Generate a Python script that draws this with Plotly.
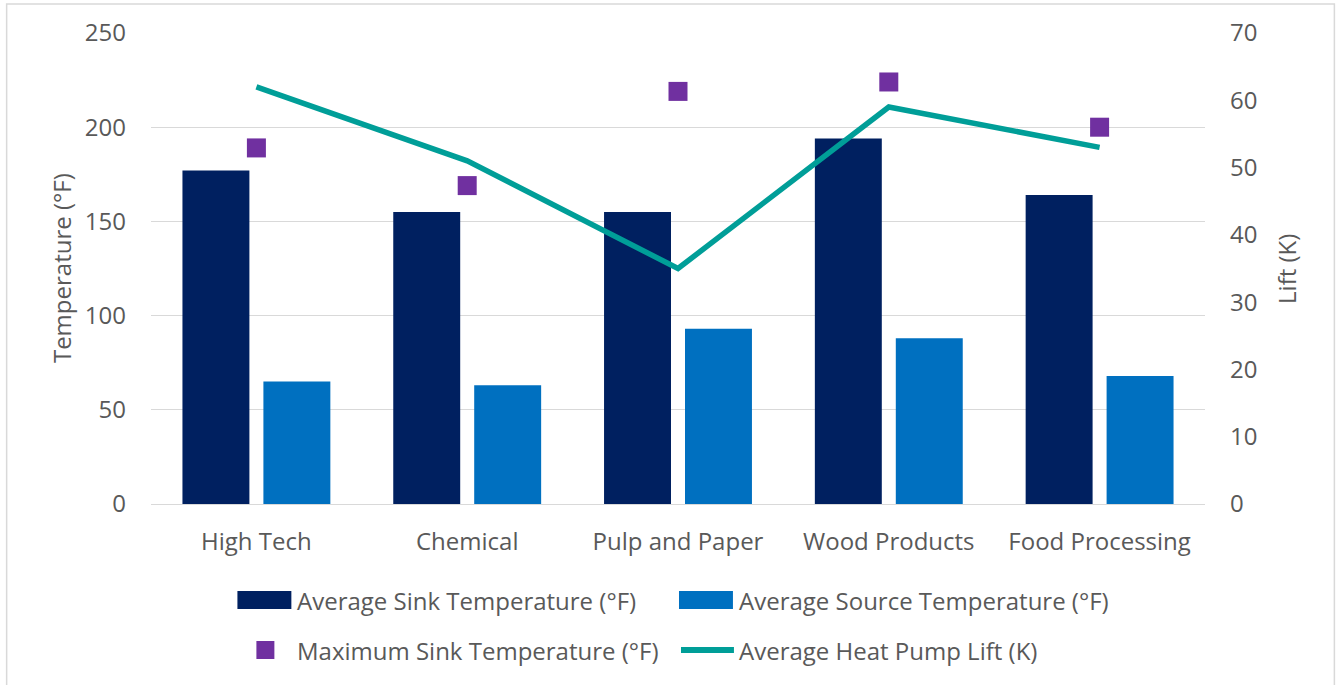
import plotly.graph_objects as go

# Industry categories and temperature / lift data
categories = ["High Tech", "Chemical", "Pulp and Paper", "Wood Products", "Food Processing"]
avg_sink_temp_f = [177, 155, 155, 194, 164]
avg_source_temp_f = [65, 63, 93, 88, 68]
max_sink_temp_f = [189, 169, 219, 224, 200]
avg_lift_k = [62, 51, 35, 59, 53]

left_ticks = [0, 50, 100, 150, 200, 250]
right_ticks = [0, 10, 20, 30, 40, 50, 60, 70]

series_names = [
    "Average Sink Temperature (°F)",
    "Average Source Temperature (°F)",
    "Maximum Sink Temperature (°F)",
    "Average Heat Pump Lift (K)",
]

NAVY = "#002060"
BLUE = "#0070C0"
PURPLE = "#7030A0"
TEAL = "#009E98"
TEXT = "#595959"
GRID = "#D9D9D9"
FONT = "Open Sans"

W, H = 1340, 685
L, R, T, B = 150.5, 134.5, 33, 181
PW, PH = W - L - R, H - T - B


def px(x):
    return (x - L) / PW


def py(y):
    return (H - B - y) / PH


fig = go.Figure()

fig.add_trace(go.Bar(x=categories, y=avg_sink_temp_f, name=series_names[0],
                     marker=dict(color=NAVY, line=dict(width=0)), showlegend=False))
fig.add_trace(go.Bar(x=categories, y=avg_source_temp_f, name=series_names[1],
                     marker=dict(color=BLUE, line=dict(width=0)), showlegend=False))
fig.add_trace(go.Scatter(x=categories, y=max_sink_temp_f, name=series_names[2], mode="markers",
                         marker=dict(symbol="square", size=19, color=PURPLE, line=dict(width=0)),
                         showlegend=False))
fig.add_trace(go.Scatter(x=categories, y=avg_lift_k, name=series_names[3], mode="lines",
                         line=dict(color=TEAL, width=5.5), yaxis="y2", showlegend=False))

# Legend drawn as swatches plus labels, two columns by two rows
shapes = [
    dict(type="rect", xref="paper", yref="paper", x0=px(6), x1=px(1335), y0=py(690), y1=py(4),
         line=dict(color=GRID, width=1.5), fillcolor="rgba(0,0,0,0)", layer="below"),
    dict(type="rect", xref="paper", yref="paper", x0=px(237), x1=px(291), y0=py(609), y1=py(591),
         line=dict(width=0), fillcolor=NAVY),
    dict(type="rect", xref="paper", yref="paper", x0=px(679), x1=px(733), y0=py(609), y1=py(591),
         line=dict(width=0), fillcolor=BLUE),
    dict(type="rect", xref="paper", yref="paper", x0=px(256), x1=px(274), y0=py(659), y1=py(641),
         line=dict(width=0), fillcolor=PURPLE),
    dict(type="line", xref="paper", yref="paper", x0=px(681), x1=px(734), y0=py(650), y1=py(650),
         line=dict(color=TEAL, width=6)),
]

annotations = []
legend_pos = [(295, 600), (737, 600), (295, 650), (737, 650)]
for name, (lx, ly) in zip(series_names, legend_pos):
    annotations.append(dict(text=name, xref="paper", yref="paper", x=px(lx), y=py(ly),
                            xanchor="left", yanchor="middle", showarrow=False,
                            font=dict(family=FONT, size=24, color=TEXT)))

annotations.append(dict(text="Temperature (°F)", xref="paper", yref="paper", x=px(61), y=py(268.5),
                        xanchor="center", yanchor="middle", textangle=-90, showarrow=False,
                        font=dict(family=FONT, size=24, color=TEXT)))
annotations.append(dict(text="Lift (K)", xref="paper", yref="paper", x=px(1287), y=py(268.5),
                        xanchor="center", yanchor="middle", textangle=-90, showarrow=False,
                        font=dict(family=FONT, size=24, color=TEXT)))

fig.update_layout(
    width=W, height=H,
    margin=dict(l=L, r=R, t=T, b=B, pad=0),
    paper_bgcolor="white", plot_bgcolor="white",
    barmode="group", bargap=0.232, bargroupgap=0.173,
    showlegend=False,
    font=dict(family=FONT, size=24, color=TEXT),
    xaxis=dict(showgrid=False, showline=False, ticks="", ticklabelstandoff=21,
               tickfont=dict(family=FONT, size=24, color=TEXT)),
    yaxis=dict(range=[0, 250], tickvals=left_ticks, showgrid=True, gridcolor=GRID, gridwidth=1.3,
               zeroline=True, zerolinecolor=GRID, zerolinewidth=1.3, showline=False, ticks="",
               ticklabelstandoff=24, tickfont=dict(family=FONT, size=24, color=TEXT)),
    yaxis2=dict(range=[0, 70], tickvals=right_ticks, overlaying="y", side="right", showgrid=False,
                zeroline=False, showline=False, ticks="", ticklabelstandoff=24,
                tickfont=dict(family=FONT, size=24, color=TEXT)),
    shapes=shapes,
    annotations=annotations,
)

fig.write_html("out.html")
